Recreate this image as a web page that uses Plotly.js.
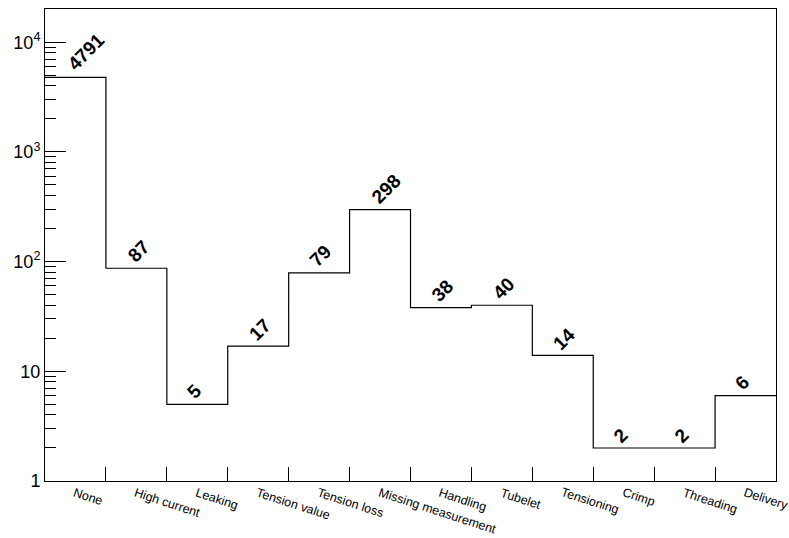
<!DOCTYPE html>
<html>
<head>
<meta charset="utf-8">
<script src="https://cdn.plot.ly/plotly-3.0.1.min.js"></script>
<style>html,body{margin:0;padding:0;background:#fff;}#chart{width:789px;height:538px;}</style>
</head>
<body>
<div id="chart"></div>
<script>
const categories = ["None","High current","Leaking","Tension value","Tension loss","Missing measurement","Handling","Tubelet","Tensioning","Crimp","Threading","Delivery"];
const counts = [4791, 87, 5, 17, 79, 298, 38, 40, 14, 2, 2, 6];
const yTickVals = [1, 10, 100, 1000, 10000];
const yTickText = ["1", "10", "10<sup>2</sup>", "10<sup>3</sup>", "10<sup>4</sup>"];

const n = categories.length;
const edges = [];
for (let i = 0; i <= n; i++) edges.push(i);
const stepY = counts.concat([counts[n - 1]]);
const centers = categories.map((c, i) => i + 0.5);

const minorVals = [];
for (let d = 1; d <= 10000; d *= 10) {
  for (let k = 2; k <= 9; k++) minorVals.push(k * d);
}

const font = "'Liberation Sans', Arial, Helvetica, sans-serif";

const trace = {
  x: edges,
  y: stepY,
  type: "scatter",
  mode: "lines",
  line: {shape: "hv", color: "#000", width: 1.2},
  hoverinfo: "skip",
  cliponaxis: false
};

// rotated value labels: anchored like ROOT's TEXT45 (bottom-left at bin centre, rotated 45 deg)
const valueNotes = counts.map((v, i) => {
  const len = String(v).length;
  return {
    x: centers[i], y: Math.log10(v), xref: "x", yref: "y",
    text: String(v), showarrow: false, textangle: -45,
    xanchor: "center", yanchor: "middle",
    xshift: -3 + (len - 1) * 4.7, yshift: 12.8 + (len - 1) * 4.2,
    font: {family: font, size: 19, color: "#000", weight: "bold"}
  };
});

const labelNotes = categories.map((c, i) => ({
  x: centers[i], y: 0, xref: "x", yref: "paper",
  text: c, showarrow: false, textangle: 18,
  xanchor: "left", yanchor: "top", xshift: -6, yshift: -2,
  font: {family: font, size: 12.5, color: "#000"}
}));

const layout = {
  width: 789, height: 538,
  margin: {l: 45, r: 13, t: 9, b: 57},
  paper_bgcolor: "#fff", plot_bgcolor: "#fff",
  showlegend: false,
  font: {family: font, color: "#000"},
  xaxis: {
    range: [0, 12], showgrid: false, zeroline: false,
    tickmode: "array", tickvals: edges.slice(1, n), ticktext: edges.slice(1, n).map(() => ""),
    ticks: "inside", ticklen: 14, tickcolor: "#000", tickwidth: 1,
    showline: true, linecolor: "#000", linewidth: 1, mirror: true
  },
  yaxis: {
    type: "log", range: [0, 4.303], showgrid: false, zeroline: false,
    tickmode: "array", tickvals: yTickVals, ticktext: yTickText,
    ticks: "inside", ticklen: 21, tickcolor: "#000", tickwidth: 1,
    tickfont: {size: 18, family: font},
    showline: true, linecolor: "#000", linewidth: 1, mirror: true,
    minor: {tickmode: "array", tickvals: minorVals, ticks: "inside", ticklen: 11, tickcolor: "#000", tickwidth: 1, showgrid: false}
  },
  annotations: valueNotes.concat(labelNotes)
};

Plotly.newPlot("chart", [trace], layout, {staticPlot: true, displayModeBar: false});
</script>
</body>
</html>
